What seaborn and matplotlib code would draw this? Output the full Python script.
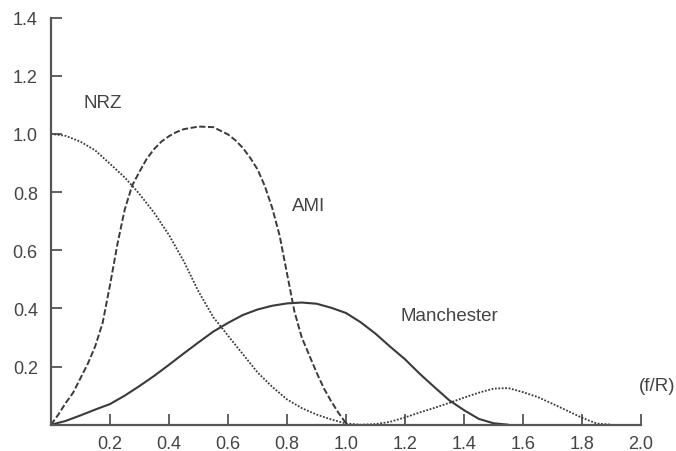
import matplotlib
matplotlib.use("Agg")
import matplotlib.pyplot as plt
import seaborn as sns
import pandas as pd

# Power spectral density of three line codes, normalised frequency f/R
nrz_f = [0.00, 0.05, 0.10, 0.15, 0.20, 0.25, 0.30, 0.35, 0.40, 0.45, 0.50,
         0.55, 0.60, 0.65, 0.70, 0.75, 0.80, 0.85, 0.90, 0.95, 1.00, 1.05,
         1.10, 1.15, 1.20, 1.25, 1.30, 1.35, 1.40, 1.45, 1.50, 1.55, 1.60,
         1.65, 1.70, 1.75, 1.80, 1.85, 1.90]
nrz_p = [1.000, 0.993, 0.973, 0.943, 0.897, 0.850, 0.793, 0.728, 0.652, 0.562, 0.458,
         0.370, 0.306, 0.243, 0.180, 0.130, 0.087, 0.057, 0.035, 0.018, 0.004, 0.000,
         0.002, 0.010, 0.025, 0.042, 0.058, 0.075, 0.093, 0.110, 0.124, 0.126, 0.112,
         0.095, 0.072, 0.048, 0.024, 0.004, 0.000]

ami_f = [0.000, 0.025, 0.050, 0.075, 0.100, 0.125, 0.150, 0.175, 0.200, 0.225,
         0.250, 0.275, 0.300, 0.325, 0.350, 0.375, 0.400, 0.425, 0.450, 0.500,
         0.550, 0.600, 0.625, 0.650, 0.675, 0.700, 0.725, 0.750, 0.775, 0.800,
         0.825, 0.850, 0.875, 0.900, 0.925, 0.950, 0.975, 1.000]
ami_p = [0.000, 0.035, 0.075, 0.110, 0.160, 0.210, 0.270, 0.350, 0.480, 0.620,
         0.740, 0.822, 0.870, 0.915, 0.948, 0.974, 0.992, 1.006, 1.016, 1.025,
         1.023, 0.998, 0.978, 0.952, 0.918, 0.878, 0.820, 0.745, 0.650, 0.520,
         0.390, 0.300, 0.240, 0.180, 0.125, 0.080, 0.040, 0.005]

man_f = [0.00, 0.05, 0.10, 0.15, 0.20, 0.25, 0.30, 0.35, 0.40, 0.45, 0.50,
         0.55, 0.60, 0.65, 0.70, 0.75, 0.80, 0.85, 0.90, 0.95, 1.00, 1.05,
         1.10, 1.15, 1.20, 1.25, 1.30, 1.35, 1.40, 1.45, 1.50, 1.55]
man_p = [0.000, 0.013, 0.032, 0.052, 0.071, 0.100, 0.133, 0.168, 0.206, 0.245, 0.283,
         0.320, 0.350, 0.377, 0.396, 0.409, 0.417, 0.420, 0.416, 0.402, 0.384, 0.352,
         0.313, 0.268, 0.225, 0.175, 0.129, 0.084, 0.050, 0.020, 0.005, 0.000]

x_ticks = [0.2, 0.4, 0.6, 0.8, 1.0, 1.2, 1.4, 1.6, 1.8, 2.0]
y_ticks = [0.2, 0.4, 0.6, 0.8, 1.0, 1.2, 1.4]

sns.set_theme(style="ticks")
plt.rcParams["font.family"] = ["Liberation Sans", "DejaVu Sans"]

line_col = "#3a3a3a"
axis_col = "#555555"
text_col = "#444444"

fig = plt.figure(figsize=(6.76, 4.52), dpi=100)
ax = fig.add_axes([51 / 676, 26.3 / 452, 590 / 676, 407.2 / 452])

nrz = pd.DataFrame({"f": nrz_f, "p": nrz_p})
ami = pd.DataFrame({"f": ami_f, "p": ami_p})
man = pd.DataFrame({"f": man_f, "p": man_p})

sns.lineplot(data=nrz, x="f", y="p", ax=ax, color=line_col, lw=1.3,
             linestyle=(0, (1.0, 0.9)), clip_on=False)
sns.lineplot(data=ami, x="f", y="p", ax=ax, color=line_col, lw=1.4,
             linestyle=(0, (3.2, 1.3)), clip_on=False)
sns.lineplot(data=man, x="f", y="p", ax=ax, color=line_col, lw=1.5,
             clip_on=False)

ax.set_xlim(0, 2.0)
ax.set_ylim(0, 1.4)
ax.set_xticks(x_ticks)
ax.set_yticks(y_ticks)
ax.set_xticklabels([f"{v:.1f}" for v in x_ticks])
ax.set_yticklabels([f"{v:.1f}" for v in y_ticks])
ax.set_xlabel("")
ax.set_ylabel("")

for side in ("top", "right"):
    ax.spines[side].set_visible(False)
for side in ("left", "bottom"):
    ax.spines[side].set_color(axis_col)
    ax.spines[side].set_linewidth(1.6)

ax.tick_params(axis="both", which="major", bottom=True, left=True,
               direction="in", length=8, width=1.3,
               color=axis_col, labelcolor=text_col, labelsize=13)
ax.tick_params(axis="y", pad=9.5)
ax.tick_params(axis="x", pad=7.5)

ax.text(0.175, 1.107, "NRZ", ha="center", va="center", fontsize=13.5, color=text_col)
ax.text(0.872, 0.754, "AMI", ha="center", va="center", fontsize=13.5, color=text_col)
ax.text(1.351, 0.376, "Manchester", ha="center", va="center", fontsize=13.5, color=text_col)
ax.text(2.053, 0.134, "(f/R)", ha="center", va="center", fontsize=13.5,
        color=text_col, clip_on=False)

fig.savefig("out.png", dpi=100, facecolor="white")
